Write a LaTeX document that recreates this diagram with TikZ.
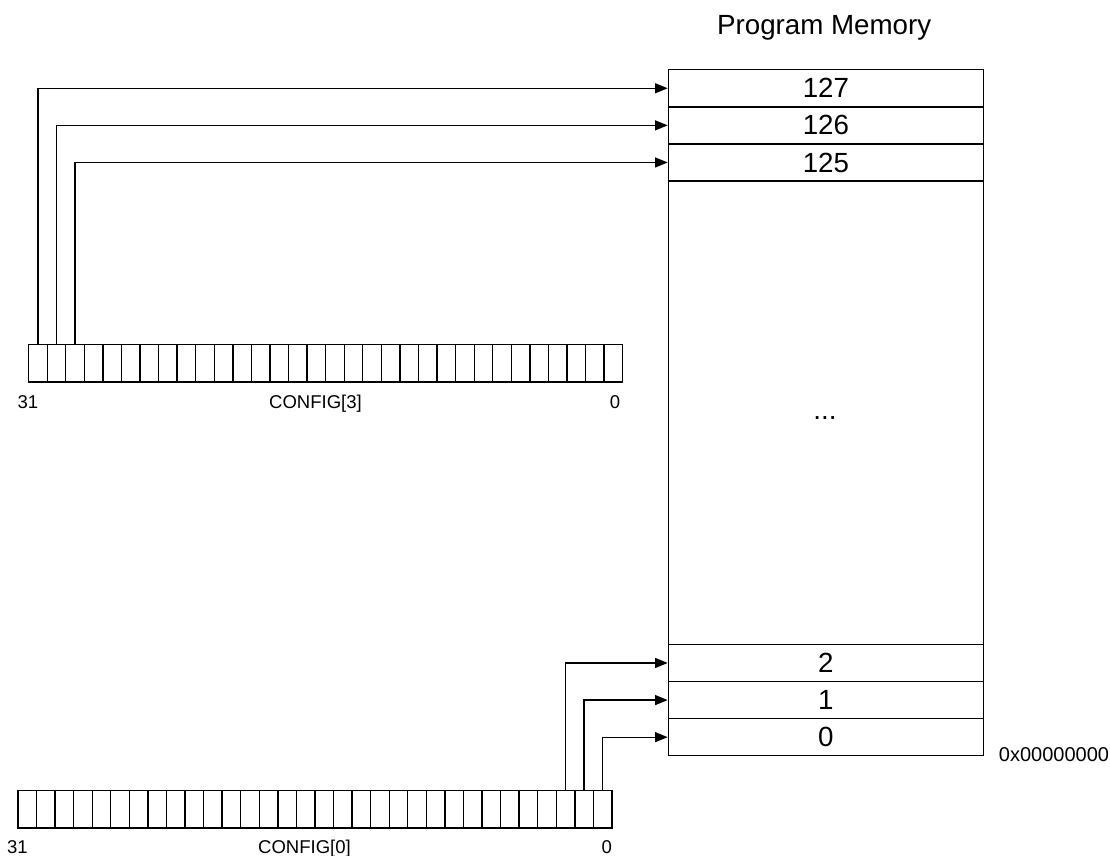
\documentclass[tikz,border=0pt]{standalone}
\usepackage{fontspec}
\setmainfont{Liberation Sans}
\usetikzlibrary{arrows.meta}
\begin{document}
\begin{tikzpicture}[x=0.75pt,y=-0.75pt,
  cell/.style={draw,line width=1pt,minimum width=13.92pt,minimum height=28.1pt,inner sep=0pt,anchor=north west},
  memrow/.style={draw,line width=1.1pt,minimum width=236.25pt,minimum height=27.8pt,inner sep=0pt,anchor=north west,font=\fontsize{20.8pt}{24pt}\selectfont},
  membox/.style={draw,line width=1.1pt,minimum width=236.25pt,minimum height=514.5pt,inner sep=0pt,anchor=north west},
  lbl/.style={inner sep=0pt,anchor=base,font=\fontsize{13.9pt}{16pt}\selectfont},
  title/.style={inner sep=0pt,anchor=base,font=\fontsize{20.8pt}{24pt}\selectfont},
  arr/.style={line width=1pt,-{Triangle[length=9.5pt,width=7.5pt]}}]
\useasboundingbox (0,0) rectangle (1110,856);
% memory
\node[membox] (mem) at (667.7,69) {};
\node[memrow] (m127) at (667.7,69) {127};
\node[memrow] (m126) at (667.7,106.1) {126};
\node[memrow] (m125) at (667.7,143.2) {125};
\node[memrow] (m2) at (667.7,643.7) {2};
\node[memrow] (m1) at (667.7,680.8) {1};
\node[memrow] (m0) at (667.7,717.9) {0};
\node[title] (dots) at (825,419.5) {...};
\node[title] (pm) at (824.2,35) {Program Memory};
\node[lbl,font=\fontsize{15pt}{18pt}\selectfont] (addr) at (1054,761.7) {0x00000000};
% registers
\foreach \b in {0,...,31}{
  \node[cell] (ra-\b) at ({28+(31-\b)*18.5625},344) {};
  \node[cell] (rb-\b) at ({17.3+(31-\b)*18.5625},790) {};
}
\node[lbl] (ra31) at (28,408.3) {31};
\node[lbl] (raname) at (315.5,408.3) {CONFIG[3]};
\node[lbl] (ra0) at (615,408.3) {0};
\node[lbl] (rb31) at (17.5,853.3) {31};
\node[lbl] (rbname) at (304.5,853.3) {CONFIG[0]};
\node[lbl] (rb0) at (606.7,853.3) {0};
% connectors
\draw[arr] (ra-31.north) |- (m127.west);
\draw[arr] (ra-30.north) |- (m126.west);
\draw[arr] (ra-29.north) |- (m125.west);
\draw[arr] (rb-2.north) |- (m2.west);
\draw[arr] (rb-1.north) |- (m1.west);
\draw[arr] (rb-0.north) |- (m0.west);
\end{tikzpicture}
\end{document}
